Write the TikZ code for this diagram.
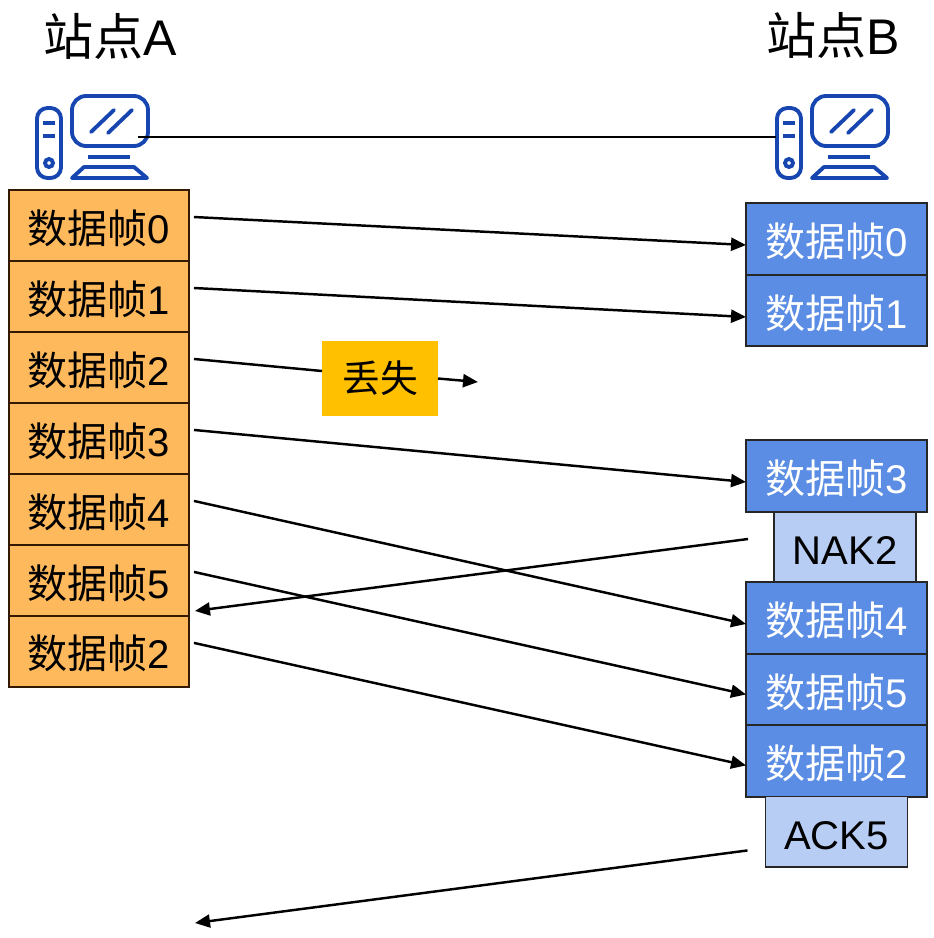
\documentclass[tikz,border=0pt]{standalone}
\usepackage{fontspec}
\setmainfont{Liberation Sans}
\newfontfamily\cjk{Noto Sans CJK SC}
\usetikzlibrary{positioning,arrows.meta}
\newcommand{\zh}[1]{{\cjk #1}}
\definecolor{frameorange}{HTML}{FDB95B}
\definecolor{frameblue}{HTML}{5B8DE4}
\definecolor{acklight}{HTML}{B8CDF4}
\definecolor{lostyellow}{HTML}{FFC000}
\definecolor{hostblue}{HTML}{1746B0}
\begin{document}
\begin{tikzpicture}[
    x=0.02cm,
    y=-0.02cm,
    node distance=0pt,
    title/.style={font=\fontsize{28.5}{32}\selectfont},
    framefont/.style={font=\fontsize{22.8}{26}\selectfont, text height=20pt, text depth=0pt},
    sendframe/.style={rectangle, draw=black!80!orange, line width=0.7pt, fill=frameorange, minimum width=3.6cm, minimum height=1.42cm, outer sep=0pt, inner sep=0pt, framefont},
    recvframe/.style={rectangle, draw=black!85, line width=1.1pt, fill=frameblue, text=white, minimum width=3.62cm, minimum height=1.43cm, outer sep=0pt, inner sep=0pt, framefont},
    ackframe/.style={rectangle, draw=black!85, line width=0.9pt, fill=acklight, minimum width=2.84cm, minimum height=1.41cm, outer sep=0pt, inner sep=0pt, framefont},
    lostbox/.style={rectangle, fill=lostyellow, minimum width=2.32cm, minimum height=1.5cm, outer sep=0pt, inner sep=0pt, font=\fontsize{21.5}{26}\selectfont},
    arrow/.style={line width=1.4pt,->,>={Triangle[length=0.3cm,width=0.26cm]}},
    link/.style={line width=1.5pt},
    pics/host/.style={code={
        \begin{scope}[hostblue, line width=2.2pt]
        \draw [rounded corners=6] (-55,-29) rectangle (-31,41);
        \draw (-49,-14) -- (-37,-14);
        \draw (-49,-1) -- (-37,-1);
        \draw (-43,26) circle (4);
        \draw [rounded corners=8] (-20,-41) rectangle (56,9);
        \draw [line cap=round] (-1,-5) -- (22,-27);
        \draw [line cap=round] (16,-4) -- (40,-27);
        \draw (-4,20) -- (38,20);
        \draw [line join=round] (-20,41) -- (-8,30) -- (42,30) -- (55,41) -- cycle;
        \end{scope}
    }}
]
    \useasboundingbox (0,0) rectangle (934,938);

    % Titles
    \node [title] (titleA) at (110,36) {\zh{站点}A};
    \node [title] (titleB) at (833,35) {\zh{站点}B};

    % Hosts
    \pic at (92,137) {host};
    \pic at (832,137) {host};
    \coordinate (hostA) at (138,137);
    \coordinate (hostB) at (776,137);

    % Frames of site A
    \node [sendframe] (a0) at (99,225.5) {\zh{数据帧}0};
    \node [sendframe, below=of a0] (a1) {\zh{数据帧}1};
    \node [sendframe, below=of a1] (a2) {\zh{数据帧}2};
    \node [sendframe, below=of a2] (a3) {\zh{数据帧}3};
    \node [sendframe, below=of a3] (a4) {\zh{数据帧}4};
    \node [sendframe, below=of a4] (a5) {\zh{数据帧}5};
    \node [sendframe, below=of a5] (a6) {\zh{数据帧}2};

    % Frames of site B
    \node [recvframe] (b0) at (836.5,239) {\zh{数据帧}0};
    \node [recvframe, below=of b0] (b1) {\zh{数据帧}1};
    \node [recvframe] (b3) at (836.5,476) {\zh{数据帧}3};
    \node [ackframe, below=of b3, xshift=0.17cm] (nak) {NAK2};
    \node [recvframe, below=of b3, yshift=-1.41cm] (b4) {\zh{数据帧}4};
    \node [recvframe, below=of b4] (b5) {\zh{数据帧}5};
    \node [recvframe, below=of b5] (b6) {\zh{数据帧}2};
    \node [ackframe, below=of b6] (ack) {ACK5};

    % Lost frame
    \node [lostbox] (lost) at (380,378.5) {\zh{丢失}};
    \coordinate (lostend) at (478,382);
    \coordinate (ackend) at (195,923);

    % Arrows
    \draw [link] (hostA) -- (hostB);
    \draw [arrow] ([shift={(5,-8.5)}]a0.east) -- ([yshift=-0.12cm]b0.west);
    \draw [arrow] ([shift={(5,-8.5)}]a1.east) -- ([yshift=-0.13cm]b1.west);
    \draw [line width=1.4pt] ([shift={(5,-8.5)}]a2.east) -- ([yshift=0.15cm]lost.west);
    \draw [arrow] (lost.east) -- (lostend);
    \draw [arrow] ([shift={(5,-8.5)}]a3.east) -- ([yshift=-0.12cm]b3.west);
    \draw [arrow] ([shift={(5,-8.5)}]a4.east) -- ([yshift=-0.12cm]b4.west);
    \draw [arrow] ([shift={(5,-8.5)}]a5.east) -- ([yshift=-0.1cm]b5.west);
    \draw [arrow] ([shift={(5,-8.5)}]a6.east) -- ([yshift=-0.09cm]b6.west);

    % Replies
    \draw [arrow] ([shift={(-26,-8)}]nak.west) -- ([shift={(6,-5)}]a5.south east);
    \draw [arrow] ([shift={(-18,18.5)}]ack.west) -- (ackend);
\end{tikzpicture}
\end{document}
